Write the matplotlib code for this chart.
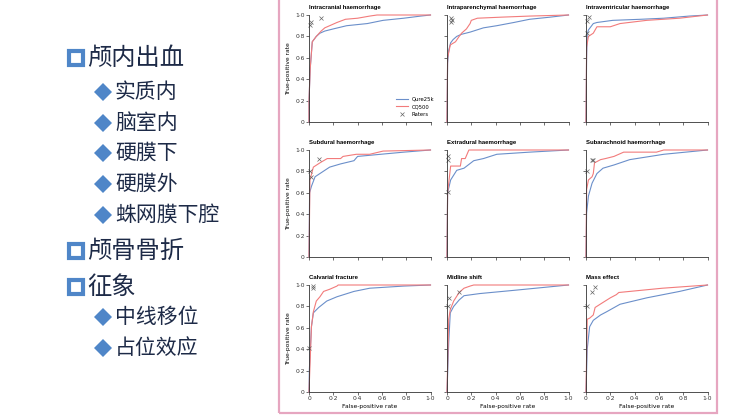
import matplotlib
matplotlib.use("Agg")
import matplotlib.pyplot as plt
from matplotlib.patches import Rectangle
from matplotlib.lines import Line2D

# left-hand outline (text, level)
outline = [
    ("颅内出血", 0), ("实质内", 1), ("脑室内", 1), ("硬膜下", 1), ("硬膜外", 1),
    ("蛛网膜下腔", 1), ("颅骨骨折", 0), ("征象", 0), ("中线移位", 1), ("占位效应", 1),
]
outline_y = [58, 92, 123, 153, 184, 215, 251, 287, 317, 348]  # pixel rows

titles = ["Intracranial haemorrhage", "Intraparenchymal haemorrhage", "Intraventricular haemorrhage",
          "Subdural haemorrhage", "Extradural haemorrhage", "Subarachnoid haemorrhage",
          "Calvarial fracture", "Midline shift", "Mass effect"]

# Qure25k curves (fpr, tpr)
qure_fpr = [
    [0, 0, 0.01, 0.027, 0.06, 0.09, 0.13, 0.2, 0.31, 0.48, 0.61, 0.78, 0.92, 1],
    [0, 0.005, 0.014, 0.03, 0.05, 0.08, 0.12, 0.19, 0.3, 0.41, 0.55, 0.68, 0.85, 1],
    [0, 0.005, 0.01, 0.02, 0.06, 0.09, 0.22, 0.45, 0.64, 0.85, 1],
    [0, 0.005, 0.02, 0.05, 0.09, 0.17, 0.26, 0.37, 0.4, 0.59, 0.78, 1],
    [0, 0.005, 0.03, 0.08, 0.14, 0.22, 0.3, 0.41, 0.68, 1],
    [0, 0.005, 0.02, 0.05, 0.09, 0.14, 0.23, 0.36, 0.64, 1],
    [0, 0.003, 0.02, 0.036, 0.08, 0.146, 0.23, 0.37, 0.5, 0.78, 1],
    [0, 0.014, 0.027, 0.055, 0.1, 0.14, 0.27, 0.55, 1],
    [0, 0.01, 0.03, 0.06, 0.12, 0.17, 0.28, 0.5, 0.77, 1],
]
qure_tpr = [
    [0, 0.2, 0.5, 0.75, 0.8, 0.83, 0.85, 0.87, 0.9, 0.92, 0.95, 0.97, 0.99, 1],
    [0, 0.55, 0.67, 0.74, 0.77, 0.8, 0.82, 0.84, 0.88, 0.9, 0.93, 0.96, 0.98, 1],
    [0, 0.6, 0.82, 0.86, 0.92, 0.93, 0.95, 0.96, 0.97, 0.99, 1],
    [0, 0.6, 0.66, 0.75, 0.78, 0.84, 0.87, 0.9, 0.94, 0.96, 0.98, 1],
    [0, 0.6, 0.72, 0.81, 0.83, 0.9, 0.92, 0.96, 0.98, 1],
    [0, 0.41, 0.57, 0.69, 0.78, 0.83, 0.86, 0.91, 0.96, 1],
    [0, 0.21, 0.61, 0.74, 0.79, 0.85, 0.89, 0.94, 0.97, 0.99, 1],
    [0, 0.46, 0.74, 0.8, 0.86, 0.9, 0.92, 0.95, 1],
    [0, 0.4, 0.61, 0.67, 0.72, 0.75, 0.82, 0.88, 0.94, 1],
]

# CQ500 curves
cq_fpr = [
    [0, 0, 0.01, 0.027, 0.06, 0.1, 0.13, 0.17, 0.23, 0.3, 0.4, 0.5, 0.56, 1],
    [0, 0.005, 0.027, 0.07, 0.1, 0.12, 0.16, 0.19, 0.2, 0.25, 0.45, 0.68, 1],
    [0, 0.005, 0.02, 0.06, 0.09, 0.2, 0.28, 0.5, 0.77, 1],
    [0, 0.008, 0.036, 0.09, 0.15, 0.26, 0.28, 0.39, 0.5, 0.61, 1],
    [0, 0.005, 0.03, 0.11, 0.12, 0.15, 0.18, 1],
    [0, 0.005, 0.02, 0.05, 0.06, 0.07, 0.12, 0.16, 0.23, 0.31, 0.58, 0.64, 1],
    [0, 0.02, 0.036, 0.06, 0.09, 0.12, 0.17, 0.23, 0.24, 1],
    [0, 0.014, 0.027, 0.055, 0.1, 0.14, 0.19, 0.22, 1],
    [0, 0.01, 0.03, 0.06, 0.075, 0.13, 0.2, 0.25, 0.27, 0.36, 0.63, 1],
]
cq_tpr = [
    [0, 0.2, 0.5, 0.75, 0.8, 0.85, 0.88, 0.9, 0.93, 0.96, 0.97, 0.99, 1.0, 1],
    [0, 0.6, 0.72, 0.75, 0.8, 0.83, 0.87, 0.92, 0.95, 0.97, 0.98, 0.99, 1],
    [0, 0.7, 0.8, 0.83, 0.89, 0.89, 0.92, 0.95, 0.97, 1],
    [0, 0.72, 0.84, 0.88, 0.92, 0.92, 0.94, 0.96, 0.96, 0.99, 1],
    [0, 0.6, 0.85, 0.85, 0.92, 0.92, 1.0, 1],
    [0, 0.63, 0.72, 0.75, 0.78, 0.88, 0.91, 0.92, 0.94, 0.98, 0.98, 1.0, 1],
    [0, 0.61, 0.75, 0.85, 0.89, 0.94, 0.96, 0.99, 1.0, 1],
    [0, 0.68, 0.77, 0.85, 0.93, 0.97, 0.99, 1.0, 1],
    [0, 0.68, 0.69, 0.72, 0.79, 0.83, 0.88, 0.91, 0.93, 0.94, 0.97, 1],
]

# individual raters
rater_fpr = [
    [0.01, 0.02, 0.1], [0.03, 0.04, 0.03], [0.025, 0.01, 0.005],
    [0.01, 0.015, 0.08], [0.005, 0.005, 0.005], [0.05, 0.06, 0.005],
    [0.035, 0.03, 0.0], [0.015, 0.005, 0.1], [0.07, 0.05, 0.005],
]
rater_tpr = [
    [0.91, 0.93, 0.97], [0.93, 0.95, 0.97], [0.98, 0.94, 0.83],
    [0.8, 0.75, 0.92], [0.94, 0.91, 0.61], [0.91, 0.91, 0.8],
    [0.99, 0.97, 0.41], [0.88, 0.8, 0.93], [0.98, 0.93, 0.8],
]

ticks = [0, 0.2, 0.4, 0.6, 0.8, 1.0]
tick_labels = ["0", "0·2", "0·4", "0·6", "0·8", "1·0"]

BLUE = "#6b8fca"
RED = "#f27b7b"
NAVY = "#1d2a47"
BULLET = "#4f86c8"

W, H = 740, 416
fig = plt.figure(figsize=(7.4, 4.16), dpi=100)

# left outline
for (txt, level), yp in zip(outline, outline_y):
    y = 1 - yp / H
    if level == 0:
        fig.add_artist(Line2D([76 / W], [y], marker="s", ms=10, mfc="white", mec=BULLET,
                              mew=3, transform=fig.transFigure))
        fig.text(87 / W, y, txt, color=NAVY, fontsize=17.5,
                 family="Noto Sans CJK SC", va="center", ha="left")
    else:
        fig.add_artist(Line2D([103.5 / W], [y], marker="D", ms=9, color=BULLET, mew=0,
                              transform=fig.transFigure))
        fig.text(115 / W, y, txt, color=NAVY, fontsize=15,
                 family="Noto Sans CJK SC", va="center", ha="left")

# pink frame around the figure panel
fig.patches.append(Rectangle((279 / W, 1 - 413 / H), (717 - 279) / W, 0.1 + 413 / H,
                             transform=fig.transFigure, fill=False,
                             ec="#e6a6c0", lw=1.6))

col_x = [309, 447, 586]
row_top = [15, 150, 285]
aw, ah = 121.5, 107

for i in range(9):
    r, c = divmod(i, 3)
    ax = fig.add_axes([col_x[c] / W, 1 - (row_top[r] + ah) / H, aw / W, ah / H])
    ax.plot(qure_fpr[i], qure_tpr[i], color=BLUE, lw=0.8, label="Qure25k", clip_on=False)
    ax.plot(cq_fpr[i], cq_tpr[i], color=RED, lw=0.8, label="CQ500", clip_on=False)
    ax.plot(rater_fpr[i], rater_tpr[i], "x", color="#666666", ms=3.5, mew=0.5,
            label="Raters", clip_on=False)
    ax.set_xlim(0, 1.0)
    ax.set_ylim(0, 1.0)
    for s in ["top", "right"]:
        ax.spines[s].set_visible(False)
    for s in ["left", "bottom"]:
        ax.spines[s].set_linewidth(0.6)
        ax.spines[s].set_color("#333333")
    ax.set_xticks(ticks)
    ax.set_yticks(ticks)
    ax.tick_params(length=2, width=0.5, pad=1, labelsize=4.3, colors="#333333")
    if c == 0:
        ax.set_yticklabels(tick_labels)
        ax.set_ylabel("True-positive rate", fontsize=4.3, labelpad=3)
    else:
        ax.set_yticklabels([])
    if r == 2:
        ax.set_xticklabels(tick_labels)
        ax.set_xlabel("False-positive rate", fontsize=4.3, labelpad=2)
    else:
        ax.set_xticklabels([])
    ax.set_title(titles[i], loc="left", fontsize=4.3, fontweight="bold",
                 family="Liberation Sans", pad=4)
    if i == 0:
        ax.legend(loc="lower right", fontsize=3.8, frameon=False, handlelength=2.2,
                  borderaxespad=0.2, labelspacing=0.5, bbox_to_anchor=(1.06, 0.02))

fig.savefig("out.png", dpi=100)
